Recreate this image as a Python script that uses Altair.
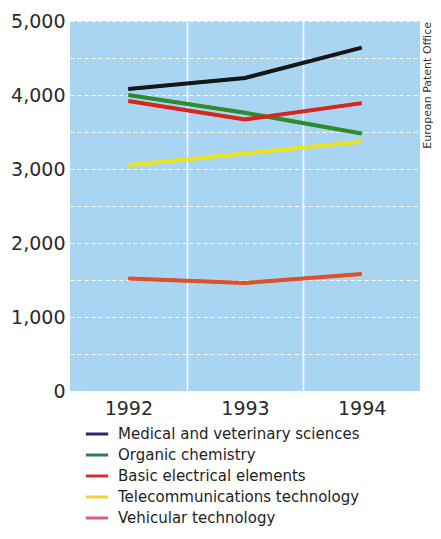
import altair as alt
import pandas as pd

years = [1992, 1993, 1994]
categories = [
    "Medical and veterinary sciences",
    "Organic chemistry",
    "Basic electrical elements",
    "Telecommunications technology",
    "Vehicular technology",
]
medical = [4080, 4230, 4640]
organic = [4000, 3760, 3480]
electrical = [3920, 3670, 3890]
telecom = [3050, 3210, 3370]
vehicular = [1520, 1460, 1580]

line_colors = ["#161616", "#2e8c2a", "#d8261c", "#ece41e", "#da512a"]
legend_colors = ["#242a70", "#2f7b58", "#d82d2d", "#f1d23e", "#d8607e"]
source = "European Patent Office"

series = [medical, organic, electrical, telecom, vehicular]
rows = []
for cat, vals in zip(categories, series):
    for y, v in zip(years, vals):
        rows.append({"year": y, "category": cat, "value": v})
df = pd.DataFrame(rows)

FONT = "DejaVu Sans"

x_enc = alt.X(
    "year:Q",
    scale=alt.Scale(domain=[1991.5, 1994.5], nice=False, zero=False),
    axis=alt.Axis(
        values=[1992, 1992.5, 1993, 1993.5, 1994],
        labelExpr="datum.value % 1 === 0 ? format(datum.value, 'd') : ''",
        title=None,
        ticks=False,
        domain=False,
        grid=True,
        gridColor="white",
        gridWidth=1.5,
        gridOpacity={"condition": {"test": "datum.value % 1 !== 0", "value": 1}, "value": 0},
        labelFont=FONT,
        labelFontSize=19,
        labelColor="#2a2a2a",
        labelPadding=8,
        labelOverlap=False,
    ),
)
y_enc = alt.Y(
    "value:Q",
    scale=alt.Scale(domain=[0, 5000], nice=False),
    axis=alt.Axis(
        values=list(range(0, 5001, 500)),
        labelExpr="datum.value % 1000 === 0 ? format(datum.value, ',') : ''",
        title=None,
        ticks=False,
        domain=False,
        grid=True,
        gridColor="white",
        gridDash=[4, 3],
        gridWidth=1,
        labelFont=FONT,
        labelFontSize=19,
        labelColor="#2a2a2a",
        labelPadding=5,
        labelOverlap=False,
    ),
)

# legend-carrying layer (drawn underneath, fully covered by the real lines)
legend_layer = alt.Chart(df).mark_line(strokeWidth=3).encode(
    x=x_enc,
    y=y_enc,
    stroke=alt.Stroke(
        "category:N",
        scale=alt.Scale(domain=categories, range=legend_colors),
        legend=alt.Legend(
            title=None,
            orient="none",
            legendX=14,
            legendY=400,
            symbolType="stroke",
            symbolSize=500,
            symbolStrokeWidth=3,
            labelFont=FONT,
            labelFontSize=15,
            labelColor="#1e1e1e",
            labelOffset=8,
            rowPadding=0,
            labelLimit=400,
        ),
    ),
    detail="category:N",
)

lines = alt.Chart(df).mark_line(strokeWidth=4).encode(
    x=x_enc,
    y=y_enc,
    color=alt.Color(
        "category:N",
        scale=alt.Scale(domain=categories, range=line_colors),
        legend=None,
    ),
    detail="category:N",
)

src = alt.Chart(pd.DataFrame({"t": [source]})).mark_text(
    angle=270, align="right", baseline="middle", fontSize=11, font=FONT, color="#333333"
).encode(text="t:N", x=alt.value(358), y=alt.value(1))

chart = (
    alt.layer(legend_layer, lines, src)
    .properties(
        width=350,
        height=370,
        autosize=alt.AutoSizeParams(type="none"),
        padding={"left": 62, "top": 13, "right": 13, "bottom": 140},
        background="white",
    )
    .configure_view(fill="#a9d4f2", stroke=None)
)

chart.save("out.html", embed_options={"renderer": "svg", "actions": False})
